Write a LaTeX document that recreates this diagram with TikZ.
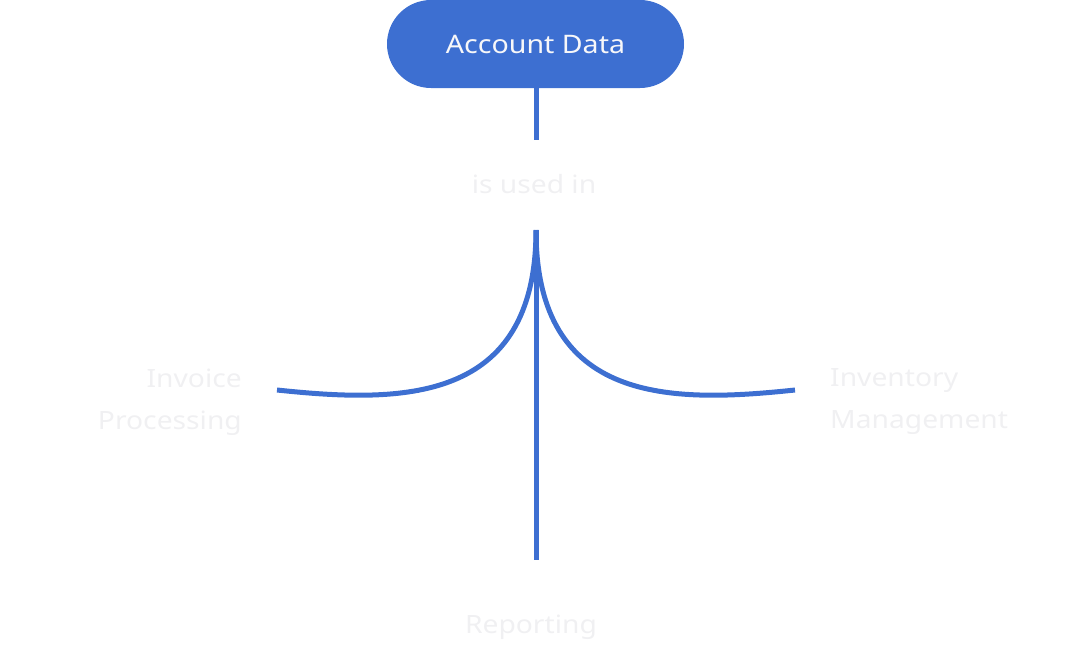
\documentclass[tikz,border=0pt]{standalone}
\usepackage{fontspec}
\setmainfont{Noto Sans}[FakeStretch=1.12]
\definecolor{cblue}{HTML}{3D6FD1}
\definecolor{cpale}{HTML}{F0F0F2}
\definecolor{cwhite}{HTML}{F7F7F9}
\begin{document}
\begin{tikzpicture}[x=1pt,y=-1pt,
  pill/.style={fill=cblue,rounded corners=44pt,minimum width=297pt,minimum height=88pt,
    text=cwhite,font=\fontsize{25.5}{28}\selectfont,inner sep=0pt},
  lbl/.style={text=cpale,font=\fontsize{25.2}{42}\selectfont,inner sep=0pt},
  link/.style={draw=cblue,line width=5pt}]
\useasboundingbox (0,0) rectangle (1072,645);
\node[pill] (acc) at (535.5,44) {Account Data};
\node[lbl,minimum height=92pt] (used) at (534,184) {is used in};
\node[lbl,align=right,anchor=east] (inv) at (242,402) {Invoice\\Processing};
\node[lbl,align=left,anchor=west] (invt) at (830,402) {Inventory\\Management};
\node[lbl,minimum height=128pt] (rep) at (531,627) {Reporting};
\draw[link] (acc.south -| 536,0) -- (536,140);
\draw[link] (536,230) .. controls (536,405) and (400,403) .. ([shift={(35,-12)}]inv.east);
\draw[link] (536,230) .. controls (536,405) and (672,403) .. ([shift={(-35,-12)}]invt.west);
\draw[link] (536,230) -- (536,560);
\end{tikzpicture}
\end{document}
